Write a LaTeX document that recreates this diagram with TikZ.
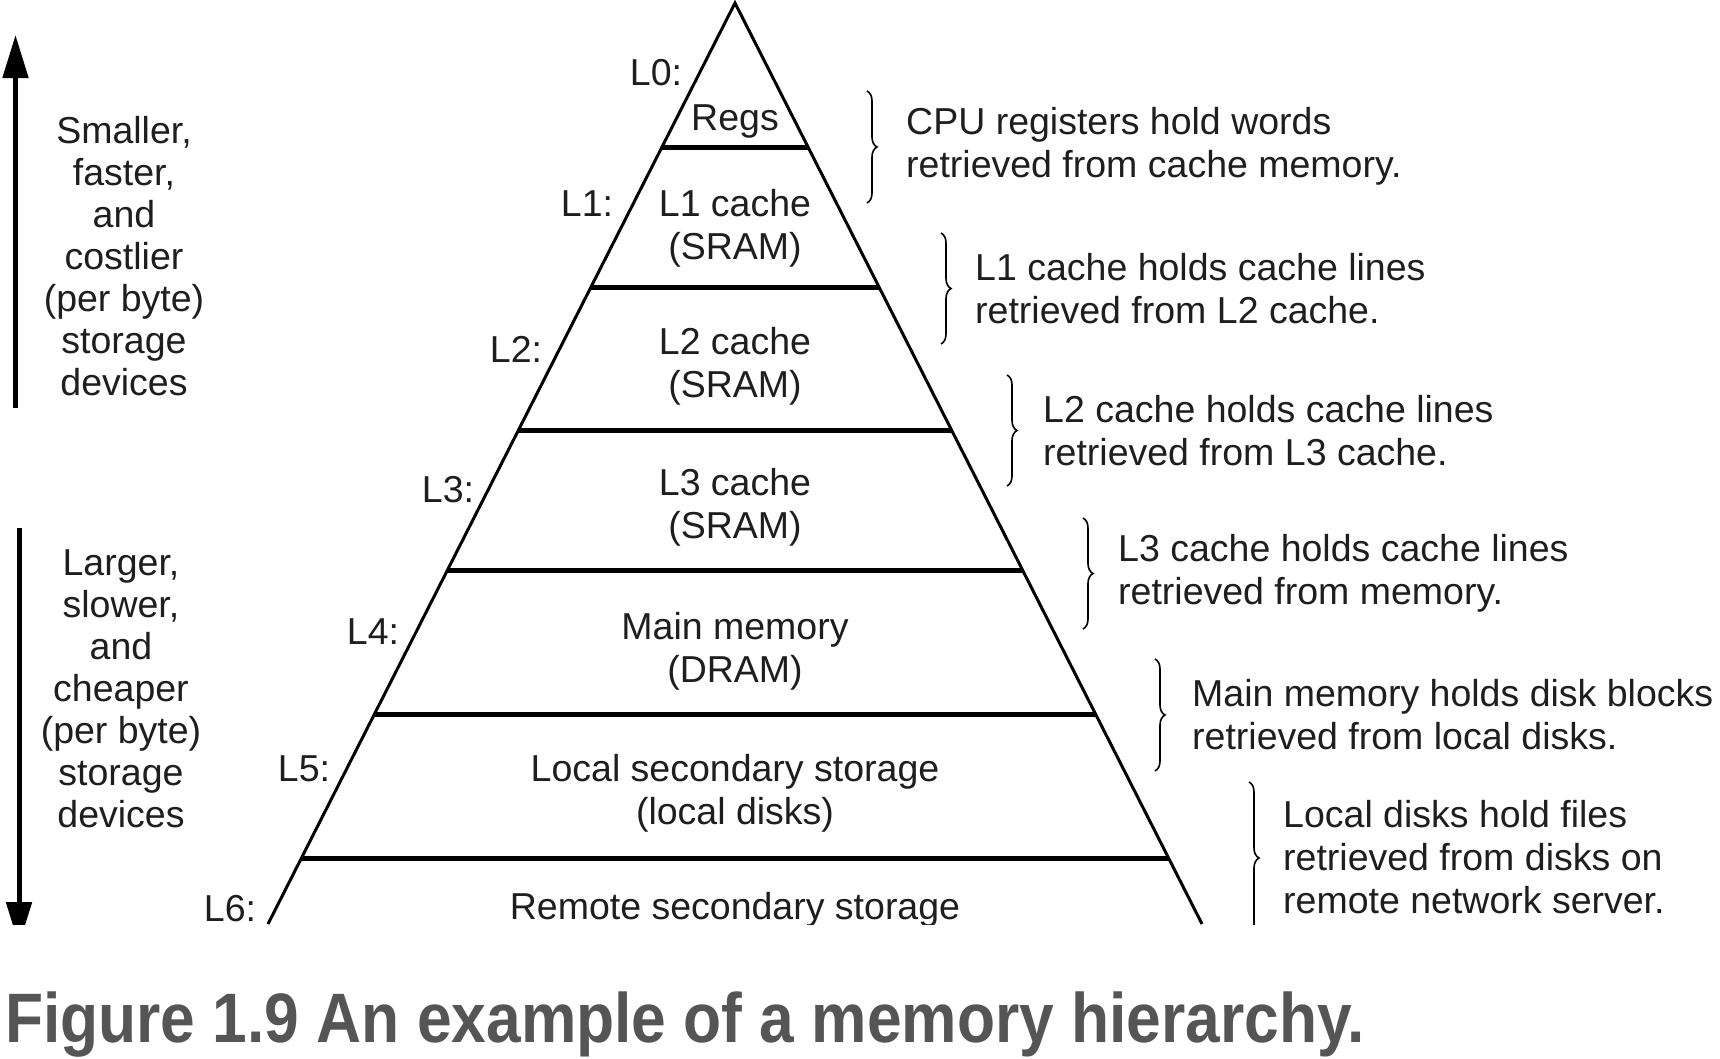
\documentclass[tikz,border=0pt]{standalone}
\usepackage{fontspec}
\setmainfont{Liberation Sans}
\usetikzlibrary{arrows.meta,decorations.pathreplacing}
\definecolor{ink}{HTML}{1E1E1E}
\definecolor{capgray}{HTML}{555555}
\begin{document}
\begin{tikzpicture}[x=1pt,y=-1pt,
  txt/.style={inner sep=0pt, text=ink, font=\fontsize{37.5}{43}\selectfont},
  sidetxt/.style={txt, align=center, font=\fontsize{37.5}{42}\selectfont},
  divider/.style={line width=5pt},
  side/.style={line width=3pt},
  brc/.style={decorate, decoration={brace, amplitude=10pt}, line width=1.6pt},
  bigarrow/.style={line width=5pt, -{Triangle[length=43pt,width=25pt]}}]
\useasboundingbox (0,0) rectangle (1720,1058);
\begin{scope}
\clip (0,0) rectangle (1720,924);
% pyramid
\coordinate (top) at (735,3);
\draw[side] (268,924) -- (top) -- (1202,924);
\foreach \y in {147,287,430,570,714,858}
  \draw[divider] ({735-0.507*(\y-3)},\y) -- ({735+0.507*(\y-3)},\y);
% levels
\node[txt, anchor=base] (regs) at (735,130) {Regs};
\node[txt, align=center] (l1c) at (735,228) {L1 cache\\(SRAM)};
\node[txt, align=center] (l2c) at (735,366) {L2 cache\\(SRAM)};
\node[txt, align=center] (l3c) at (735,507) {L3 cache\\(SRAM)};
\node[txt, align=center] (dram) at (735,651) {Main memory\\(DRAM)};
\node[txt, align=center] (disk) at (735,793) {Local secondary storage\\(local disks)};
\node[txt, anchor=base] (remote) at (735,919) {Remote secondary storage};
\foreach \n/\x/\y in {0/656/85, 1/587/216, 2/516/362, 3/448/502, 4/373/644, 5/304/781, 6/230/921}
  \node[txt, anchor=base] (lab\n) at (\x,\y) {L\n:};
% braces and notes
\draw[brc] (867,91) -- (867,203);
\draw[brc] (941,233) -- (941,344);
\draw[brc] (1007,375) -- (1007,486);
\draw[brc] (1083,518) -- (1083,629);
\draw[brc] (1155,659) -- (1155,771);
\draw[brc] (1249,782) -- (1249,934);
\node[txt, align=left, anchor=west] (n0) at (906,146) {CPU registers hold words\\retrieved from cache memory.};
\node[txt, align=left, anchor=west] (n1) at (975,289) {L1 cache holds cache lines\\retrieved from L2 cache.};
\node[txt, align=left, anchor=west] (n2) at (1043,431) {L2 cache holds cache lines\\retrieved from L3 cache.};
\node[txt, align=left, anchor=west] (n3) at (1118,573) {L3 cache holds cache lines\\retrieved from memory.};
\node[txt, align=left, anchor=west] (n4) at (1192,715) {Main memory holds disk blocks\\retrieved from local disks.};
\node[txt, align=left, anchor=west] (n5) at (1283,857) {Local disks hold files\\retrieved from disks on\\remote network server.};
% left side
\draw[bigarrow] (15.5,408) -- (15.5,35);
\draw[bigarrow] (19,528) -- (19,945);
\node[sidetxt] (up) at (124,256) {Smaller,\\faster,\\and\\costlier\\(per byte)\\storage\\devices};
\node[sidetxt] (down) at (121,689) {Larger,\\slower,\\and\\cheaper\\(per byte)\\storage\\devices};
\end{scope}
\node[inner sep=0pt, anchor=base west, text=capgray, font=\bfseries\fontsize{70}{80}\selectfont] (cap) at (5,1042) {\scalebox{0.89}[1]{Figure 1.9 An example of a memory hierarchy.}};
\end{tikzpicture}
\end{document}
